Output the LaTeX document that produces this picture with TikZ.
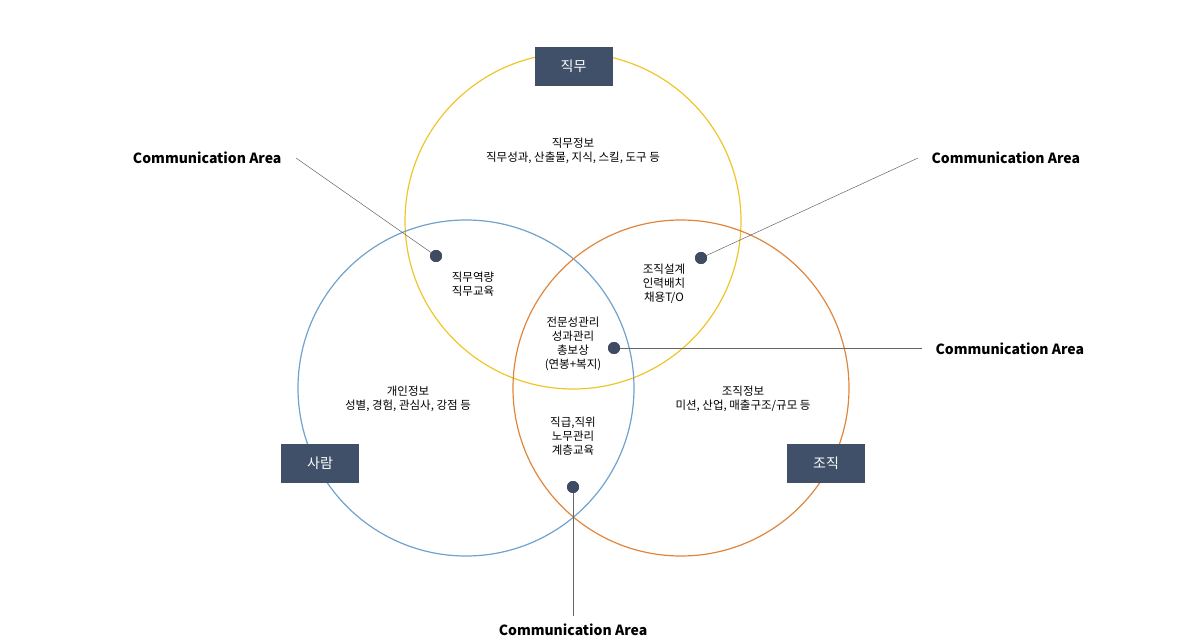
\documentclass[tikz,border=0pt]{standalone}
\usepackage{fontspec}
\setmainfont{Noto Sans CJK KR}
\begin{document}
\begin{tikzpicture}[x=1pt,y=-1pt,
  circ/.style={line width=1.2pt},
  tag/.style={fill=boxc,draw=boxc,text=white,minimum width=77pt,minimum height=38pt,font=\fontsize{14}{16}\selectfont,inner sep=0},
  txt/.style={font=\fontsize{11.5}{14}\selectfont,align=center},
  ca/.style={font=\bfseries\fontsize{14}{16}\selectfont},
  dot/.style={circle,fill=dotc,inner sep=0,minimum size=12pt},
  ln/.style={draw=gray!80!black,line width=0.5pt}]
\definecolor{boxc}{HTML}{3F5068}
\definecolor{dotc}{HTML}{3F4B63}
\definecolor{yel}{HTML}{EEC52B}
\definecolor{blu}{HTML}{6FA2CC}
\definecolor{ora}{HTML}{E0863C}
\useasboundingbox (0,0) rectangle (1187,644);
\draw[circ,yel] (573,221) circle (168);
\draw[circ,blu] (466,388) circle (168);
\draw[circ,ora] (681,388) circle (168);
\node[tag] (t1) at (573.5,66) {직무};
\node[tag] (t2) at (320,463) {사람};
\node[tag] (t3) at (826,463) {조직};
\node[txt] (a) at (573,151) {직무정보\\직무성과, 산출물, 지식, 스킬, 도구 등};
\node[txt] (b) at (473,284) {직무역량\\직무교육};
\node[txt] (c) at (664,284) {조직설계\\인력배치\\채용T/O};
\node[txt] (d) at (573,344) {전문성관리\\성과관리\\총보상\\(연봉+복지)};
\node[txt] (e) at (408,399) {개인정보\\성별, 경험, 관심사, 강점 등};
\node[txt] (f) at (743,399) {조직정보\\미션, 산업, 매출구조/규모 등};
\node[txt] (g) at (573,436) {직급,직위\\노무관리\\계층교육};
\node[dot] (d1) at (436,256) {};
\node[dot] (d2) at (701,258) {};
\node[dot] (d3) at (614,348) {};
\node[dot] (d4) at (573,487) {};
\node[ca,anchor=east] (l1) at (285,158) {Communication Area};
\node[ca,anchor=west] (l2) at (928,158) {Communication Area};
\node[ca,anchor=west] (l3) at (932,349) {Communication Area};
\node[ca] (l4) at (573,630) {Communication Area};
\coordinate (e1) at (296,158);
\coordinate (e2) at (918,158);
\coordinate (e3) at (922,348);
\coordinate (e4) at (573,616);
\draw[ln] (e1) -- (d1.center);
\draw[ln] (e2) -- (d2.center);
\draw[ln] (e3) -- (d3.center);
\draw[ln] (e4) -- (d4.center);
\foreach \n in {d1,d2,d3,d4} \node[dot] at (\n) {};
\end{tikzpicture}
\end{document}
